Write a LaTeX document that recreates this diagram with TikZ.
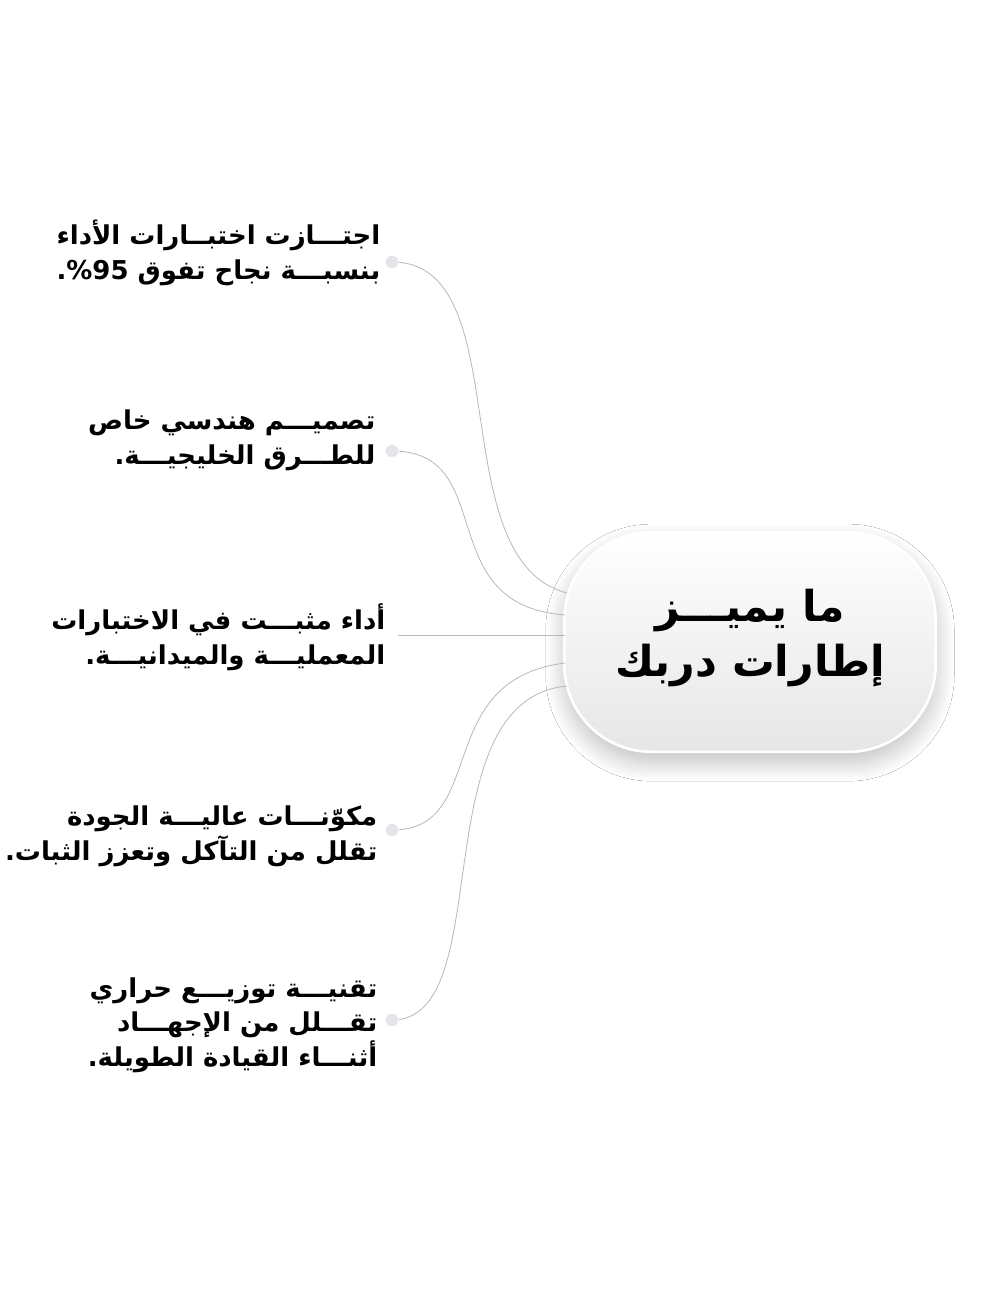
\documentclass[tikz,border=0pt]{standalone}
\usepackage{fontspec}
\newfontfamily\arabicfont[Script=Arabic]{DejaVu Sans}
\TeXXeTstate=1
\usetikzlibrary{shadows.blur}
\definecolor{linegray}{HTML}{b8b8b8}
\definecolor{dotgray}{HTML}{e4e4ea}
\definecolor{boxgray}{HTML}{e6e6e6}

\begin{document}
\begin{tikzpicture}[x=0.0264cm, y=-0.0264cm]
    \useasboundingbox[fill=white] (0, 0) rectangle (1000, 1300);
    \tikzset{item/.style={anchor=east, align=right, font=\arabicfont\bfseries\fontsize{19.5}{26}\selectfont},
        dot/.style={circle, fill=dotgray, draw=white, minimum size=0.35cm, inner sep=0pt},
        link/.style={draw=linegray, line width=0.6pt}}
    \node[rounded corners=2.3cm, minimum width=9.8cm, minimum height=5.8cm, top color=white, bottom color=boxgray, draw=white, line width=2pt, blur shadow={shadow xshift=0pt, shadow yshift=-8pt, shadow opacity=25, shadow blur radius=14pt, shadow blur steps=20}] (hub) at (750, 642) {};
    \node[font=\arabicfont\bfseries\fontsize{32}{42}\selectfont, align=center] (title) at (750, 638) {\beginR ما يميـــز\endR\\\beginR إطارات دربك\endR};
    \node[item] (t1) at (385, 253) {\beginR اجتـــازت اختبــارات الأداء\endR\\\beginR بنسبـــة نجاح تفوق \beginL 95\endL\%.\endR};
    \node[item] (t2) at (380, 440) {\beginR تصميـــم هندسي خاص\endR\\\beginR للطـــرق الخليجيـــة.\endR};
    \node[item] (t3) at (390, 637) {\beginR أداء مثبـــت في الاختبارات\endR\\\beginR المعمليـــة والميدانيـــة.\endR};
    \node[item] (t4) at (382, 836) {\beginR مكوّنـــات عاليـــة الجودة\endR\\\beginR تقلل من التآكل وتعزز الثبات.\endR};
    \node[item] (t5) at (382, 1025) {\beginR تقنيـــة توزيـــع حراري\endR\\\beginR تقـــلل من الإجهـــاد\endR\\\beginR أثنـــاء القيادة الطويلة.\endR};
    \coordinate (d1) at (392, 262);
    \coordinate (d2) at (392, 451);
    \coordinate (d3) at (398, 635);
    \coordinate (d4) at (392, 830);
    \coordinate (d5) at (392, 1020);
    \coordinate (h1) at (567, 593);
    \coordinate (h2) at (565, 615);
    \coordinate (h3) at (565, 635);
    \coordinate (h4) at (565, 663);
    \coordinate (h5) at (567, 686);
    \draw[link] (d1) .. controls (520, 262) and (440, 560) .. (h1);
    \draw[link] (d2) .. controls (500, 451) and (430, 605) .. (h2);
    \draw[link] (d3) -- (h3);
    \draw[link] (d4) .. controls (490, 830) and (430, 680) .. (h4);
    \draw[link] (d5) .. controls (500, 1020) and (420, 700) .. (h5);
    \node[dot] (p1) at (d1) {};
    \node[dot] (p2) at (d2) {};
    \node[dot] (p4) at (d4) {};
    \node[dot] (p5) at (d5) {};
\end{tikzpicture}
\end{document}
